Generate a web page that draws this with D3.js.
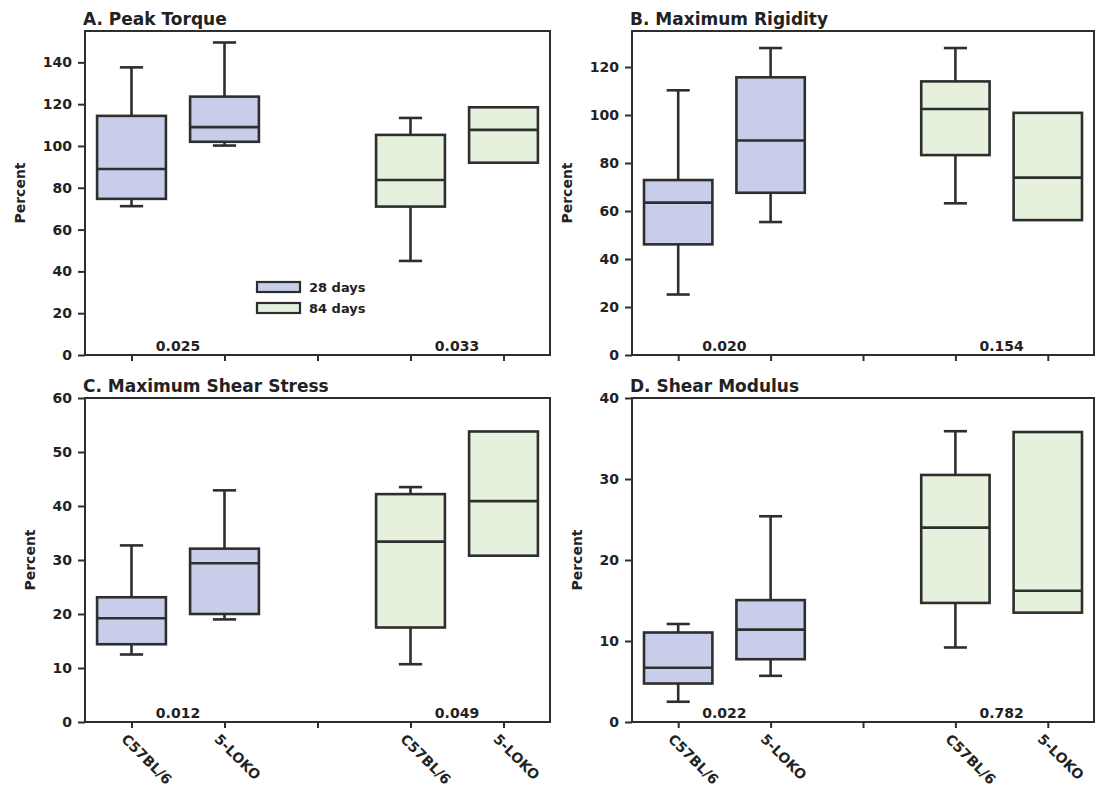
<!DOCTYPE html>
<html>
<head>
<meta charset="utf-8">
<script src="https://cdn.jsdelivr.net/npm/d3@7"></script>
<style>
  body { margin: 0; background: #fff; }
  text { font-family: "DejaVu Sans", sans-serif; font-weight: bold; fill: #222; }
</style>
</head>
<body>
<svg id="chart" width="1100" height="791"></svg>
<script>
// x slots: two strains at 28 days, gap, two strains at 84 days
const positions = [0, 1, 3, 4];
const strains = ["C57BL/6", "5-LOKO", "C57BL/6", "5-LOKO"];
const timepoints = ["28 days", "28 days", "84 days", "84 days"];
const legendLabels = ["28 days", "84 days"];

// each box: [min, q1, median, q3, max]  (null = no whisker)
const peakTorque = [
  [71.2, 74.7, 89, 114.4, 137.6],
  [100.2, 102, 109, 123.6, 149.5],
  [45, 71, 83.7, 105.3, 113.4],
  [null, 92, 107.7, 118.5, null],
];
const maxRigidity = [
  [25.2, 46.1, 63.5, 72.9, 110.3],
  [55.4, 67.6, 89.4, 115.7, 127.9],
  [63.2, 83.3, 102.5, 114, 127.9],
  [null, 56.2, 73.9, 100.9, null],
];
const maxShearStress = [
  [12.5, 14.4, 19.2, 23.1, 32.7],
  [19.0, 20.0, 29.4, 32.1, 42.9],
  [10.7, 17.5, 33.4, 42.2, 43.5],
  [null, 30.8, 40.9, 53.8, null],
];
const shearModulus = [
  [2.5, 4.75, 6.7, 11.05, 12.1],
  [5.7, 7.75, 11.4, 15.05, 25.4],
  [9.2, 14.7, 24.0, 30.5, 35.9],
  [null, 13.5, 16.2, 35.8, null],
];

const pTorque = ["0.025", "0.033"];
const pRigidity = ["0.020", "0.154"];
const pStress = ["0.012", "0.049"];
const pModulus = ["0.022", "0.782"];

const yTicksTorque = d3.range(0, 141, 20);
const yTicksRigidity = d3.range(0, 121, 20);
const yTicksStress = d3.range(0, 61, 10);
const yTicksModulus = d3.range(0, 41, 10);

const colors = { "28 days": "#c8cee9", "84 days": "#e5f1dd" };
const ink = "#2e2e2e";

const panels = [
  { title: "A. Peak Torque", data: peakTorque, p: pTorque, ticks: yTicksTorque, yMax: 155,
    x0: 85, x1: 550, y0: 31, y1: 355, xLabels: false, legend: true },
  { title: "B. Maximum Rigidity", data: maxRigidity, p: pRigidity, ticks: yTicksRigidity, yMax: 135,
    x0: 632, x1: 1094, y0: 31, y1: 355, xLabels: false, legend: false },
  { title: "C. Maximum Shear Stress", data: maxShearStress, p: pStress, ticks: yTicksStress, yMax: 60,
    x0: 85, x1: 550, y0: 398, y1: 722, xLabels: true, legend: false },
  { title: "D. Shear Modulus", data: shearModulus, p: pModulus, ticks: yTicksModulus, yMax: 40,
    x0: 632, x1: 1094, y0: 398, y1: 722, xLabels: true, legend: false },
];

const svg = d3.select("#chart");

function drawPanel(cfg) {
  const g = svg.append("g");
  const x = d3.scaleLinear().domain([-0.5, 4.5]).range([cfg.x0, cfg.x1]);
  const y = d3.scaleLinear().domain([0, cfg.yMax]).range([cfg.y1, cfg.y0]);
  const boxW = (x(1) - x(0)) * 0.74;
  const capW = (x(1) - x(0)) * 0.25;

  // frame
  g.append("rect")
    .attr("x", cfg.x0).attr("y", cfg.y0)
    .attr("width", cfg.x1 - cfg.x0).attr("height", cfg.y1 - cfg.y0)
    .attr("fill", "none").attr("stroke", ink).attr("stroke-width", 2);

  // y axis
  const yAxis = g.append("g")
    .attr("transform", `translate(${cfg.x0},0)`)
    .call(d3.axisLeft(y).tickValues(cfg.ticks).tickSize(7).tickPadding(6));
  yAxis.select(".domain").remove();
  yAxis.selectAll("line").attr("stroke", ink).attr("stroke-width", 2);
  yAxis.selectAll("text").style("font-size", "14px").attr("fill", "#222");

  // x axis
  const xAxis = g.append("g")
    .attr("transform", `translate(0,${cfg.y1})`)
    .call(d3.axisBottom(x).tickValues([0, 1, 2, 3, 4]).tickSize(6).tickFormat(""));
  xAxis.select(".domain").remove();
  xAxis.selectAll("line").attr("stroke", ink).attr("stroke-width", 2);

  if (cfg.xLabels) {
    g.selectAll(".xlab")
      .data(positions)
      .join("text")
      .attr("class", "xlab")
      .attr("transform", (d) => `translate(${x(d) - 4},${cfg.y1 + 11}) rotate(45)`)
      .attr("dy", "0.7em")
      .style("font-size", "14px")
      .text((d, i) => strains[i]);
  }

  // boxes
  const boxes = g.selectAll(".box")
    .data(cfg.data.map((v, i) => ({ v, pos: positions[i], t: timepoints[i] })))
    .join("g")
    .attr("class", "box");

  boxes.filter((d) => d.v[4] != null).each(function (d) {
    const s = d3.select(this);
    const cx = x(d.pos);
    s.append("line").attr("x1", cx).attr("x2", cx)
      .attr("y1", y(d.v[3])).attr("y2", y(d.v[4]));
    s.append("line").attr("x1", cx - capW / 2).attr("x2", cx + capW / 2)
      .attr("y1", y(d.v[4])).attr("y2", y(d.v[4]));
    s.append("line").attr("x1", cx).attr("x2", cx)
      .attr("y1", y(d.v[1])).attr("y2", y(d.v[0]));
    s.append("line").attr("x1", cx - capW / 2).attr("x2", cx + capW / 2)
      .attr("y1", y(d.v[0])).attr("y2", y(d.v[0]));
  });

  boxes.append("rect")
    .attr("x", (d) => x(d.pos) - boxW / 2)
    .attr("y", (d) => y(d.v[3]))
    .attr("width", boxW)
    .attr("height", (d) => y(d.v[1]) - y(d.v[3]))
    .attr("fill", (d) => colors[d.t]);

  boxes.append("line")
    .attr("x1", (d) => x(d.pos) - boxW / 2)
    .attr("x2", (d) => x(d.pos) + boxW / 2)
    .attr("y1", (d) => y(d.v[2]))
    .attr("y2", (d) => y(d.v[2]));

  boxes.selectAll("line, rect").attr("stroke", ink).attr("stroke-width", 2.6);

  // p values, centred between each pair
  g.selectAll(".pval")
    .data(cfg.p)
    .join("text")
    .attr("class", "pval")
    .attr("x", (d, i) => x(i * 3 + 0.5))
    .attr("y", cfg.y1 - 4)
    .attr("text-anchor", "middle")
    .style("font-size", "14px")
    .text((d) => d);

  // title
  g.append("text")
    .attr("x", cfg.x0 - 2)
    .attr("y", cfg.y0 - 6)
    .style("font-size", "17px")
    .text(cfg.title);

  // y label, placed left of the widest tick label
  const bb = yAxis.node().getBBox();
  g.append("text")
    .attr("transform", `translate(${cfg.x0 + bb.x - 18},${(cfg.y0 + cfg.y1) / 2}) rotate(-90)`)
    .attr("text-anchor", "middle")
    .style("font-size", "14px")
    .text("Percent");

  if (cfg.legend) {
    const lg = g.append("g").attr("transform", "translate(257,282)");
    legendLabels.forEach((lab, i) => {
      lg.append("rect")
        .attr("x", 0).attr("y", i * 21)
        .attr("width", 43).attr("height", 10)
        .attr("fill", colors[lab]).attr("stroke", ink).attr("stroke-width", 2.2);
      lg.append("text")
        .attr("x", 52).attr("y", i * 21 + 10)
        .style("font-size", "13px")
        .text(lab);
    });
  }
}

panels.forEach(drawPanel);
</script>
</body>
</html>
